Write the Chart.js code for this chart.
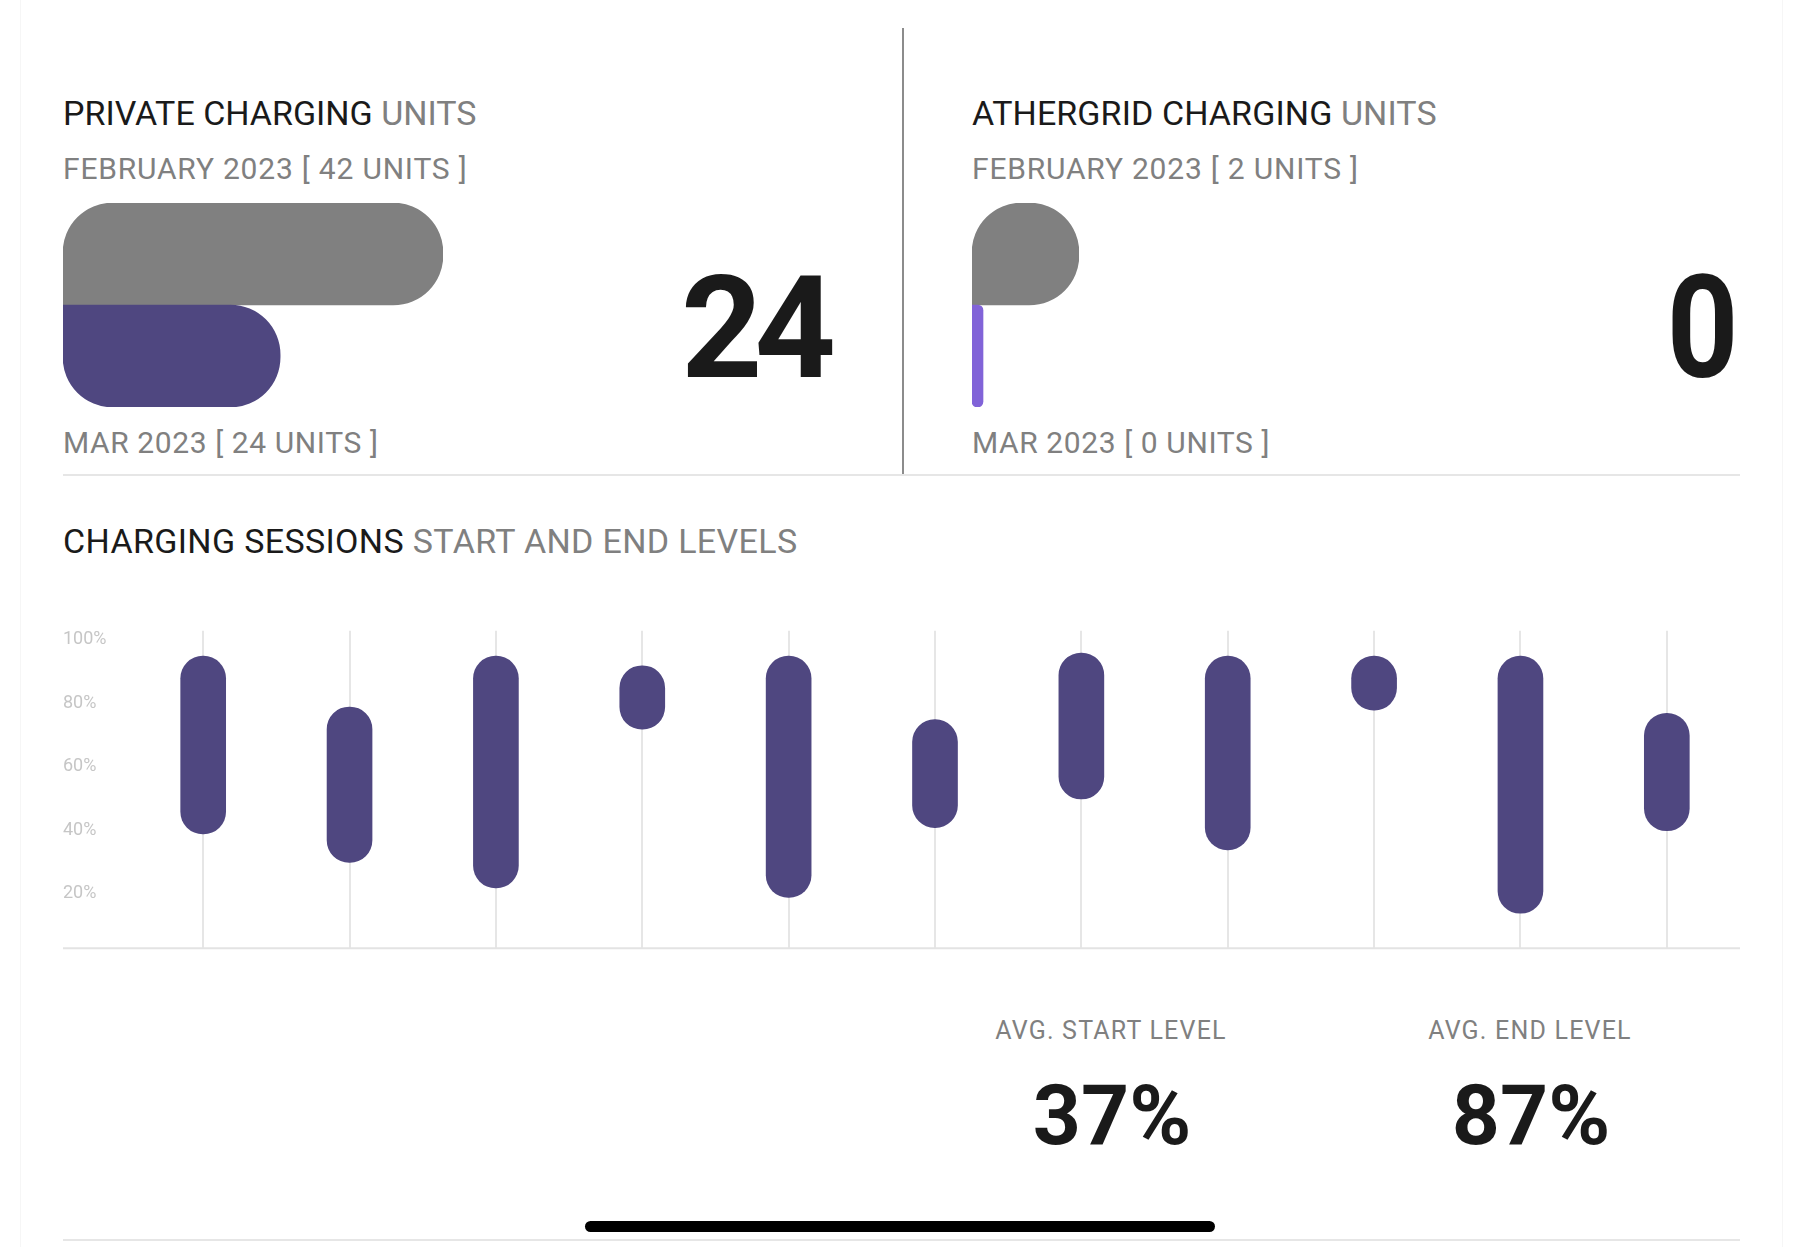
<!DOCTYPE html>
<html>
<head>
<meta charset="utf-8">
<script src="https://cdn.jsdelivr.net/npm/chart.js@4.4.0/dist/chart.umd.min.js"></script>
<style>
  body { margin: 0; background: #fff; }
  #page { position: relative; width: 1804px; height: 1247px; overflow: hidden; font-family: Roboto, sans-serif; color: #1a1a1a; }
  .t { position: absolute; white-space: nowrap; line-height: 1; }
  .grey { color: #808080; }
  .title { font-size: 34px; letter-spacing: 0; }
  .sub { font-size: 30px; letter-spacing: 0.8px; color: #808080; }
  .big { font-weight: 700; font-size: 142px; letter-spacing: -8px; text-align: right; transform-origin: right center; }
  .avgLabel { font-size: 25px; color: #808080; letter-spacing: 1.2px; width: 400px; text-align: center; }
  .avgVal { font-weight: 700; font-size: 84px; width: 400px; text-align: center; letter-spacing: 0; }
  .box { position: absolute; }
  .line { position: absolute; background: #e6e6e6; }
</style>
</head>
<body>
<div id="page">
  <div class="line" style="left:20px;top:0;width:1px;height:1247px;background:#f6f6f6"></div>
  <div class="line" style="left:1782px;top:0;width:1px;height:1247px;background:#f6f6f6"></div>

  <div class="t title" style="left:63px;top:96px">PRIVATE CHARGING <span class="grey">UNITS</span></div>
  <div class="t sub" id="privFeb" style="left:63px;top:154px"></div>
  <div class="box" style="left:63px;top:203px;width:380px;height:204px"><canvas id="privChart"></canvas></div>
  <div class="t sub" id="privMar" style="left:63px;top:428px;letter-spacing:0.6px"></div>
  <div class="t big" id="privBig" style="right:976px;top:258px"></div>

  <div class="line" style="left:902px;top:28px;width:2px;height:448px;background:#8c8c8c"></div>

  <div class="t title" style="left:972px;top:96px;letter-spacing:0.1px">ATHERGRID CHARGING <span class="grey">UNITS</span></div>
  <div class="t sub" id="athFeb" style="left:972px;top:154px"></div>
  <div class="box" style="left:972px;top:203px;width:107px;height:204px"><canvas id="athChart"></canvas></div>
  <div class="t sub" id="athMar" style="left:972px;top:428px;letter-spacing:0.6px"></div>
  <div class="t big" id="athBig" style="right:73px;top:258px;transform:scaleX(0.88)"></div>

  <div class="line" style="left:63px;top:474px;width:1677px;height:2px"></div>

  <div class="t title" style="left:63px;top:524px;letter-spacing:0.35px">CHARGING SESSIONS <span class="grey">START AND END LEVELS</span></div>
  <div class="box" style="left:63px;top:620px;width:1677px;height:339px"><canvas id="sessionChart"></canvas></div>

  <div class="t avgLabel" style="left:911px;top:1018px">AVG. START LEVEL</div>
  <div class="t avgVal" id="avgStart" style="left:912px;top:1074px"></div>
  <div class="t avgLabel" style="left:1330px;top:1018px">AVG. END LEVEL</div>
  <div class="t avgVal" id="avgEnd" style="left:1331px;top:1074px"></div>

  <div class="line" style="left:585px;top:1221px;width:630px;height:11px;background:#000;border-radius:6px"></div>
  <div class="line" style="left:63px;top:1239px;width:1677px;height:2px"></div>
</div>

<script>
// units per month
const unitMonths = ['FEBRUARY 2023', 'MAR 2023'];
const privateUnits = [42, 24];
const athergridUnits = [2, 0];

// charging sessions, battery level in %
const sessionLabels = ['1', '2', '3', '4', '5', '6', '7', '8', '9', '10', '11'];
const sessionStart = [36, 27, 19, 69, 16, 38, 47, 31, 75, 11, 37];
const sessionEnd = [92, 76, 92, 89, 92, 72, 93, 92, 92, 92, 74];
const levelTicks = [0, 20, 40, 60, 80, 100];

const purple = '#4f4780';

function fillUnits(prefix, values) {
    document.getElementById(prefix + 'Feb').textContent = unitMonths[0] + ' [ ' + values[0] + ' UNITS ]';
    document.getElementById(prefix + 'Mar').textContent = unitMonths[1] + ' [ ' + values[1] + ' UNITS ]';
    document.getElementById(prefix + 'Big').textContent = values[1];
}
fillUnits('priv', privateUnits);
fillUnits('ath', athergridUnits);

function avg(arr) {
    let s = 0;
    for (let i = 0; i < arr.length; i += 1) s += arr[i];
    return Math.round(s / arr.length);
}
document.getElementById('avgStart').textContent = avg(sessionStart) + '%';
document.getElementById('avgEnd').textContent = avg(sessionEnd) + '%';

const radii = [
    {topLeft: 50, topRight: 50, bottomRight: 50, bottomLeft: 0},
    {topLeft: 0, topRight: 50, bottomRight: 50, bottomLeft: 50}
];

function unitChart(id, values, colors) {
    return new Chart(document.getElementById(id), {
        type: 'bar',
        data: {
            labels: unitMonths,
            datasets: [{
                data: values,
                backgroundColor: colors,
                borderRadius: ctx => radii[ctx.dataIndex],
                borderSkipped: false,
                barPercentage: 1,
                categoryPercentage: 1,
                minBarLength: 11
            }]
        },
        options: {
            indexAxis: 'y',
            responsive: true,
            maintainAspectRatio: false,
            animation: false,
            layout: { padding: 0 },
            plugins: { legend: { display: false }, tooltip: { enabled: false } },
            scales: {
                x: { display: false, min: 0, max: Math.max.apply(null, values) },
                y: { display: false }
            }
        }
    });
}
unitChart('privChart', privateUnits, ['#808080', purple]);
unitChart('athChart', athergridUnits, ['#808080', '#8163d8']);

// bottom line of the sessions chart, runs under the tick labels too
const baseLine = {
    id: 'baseLine',
    beforeDatasetsDraw(chart) {
        const ctx = chart.ctx;
        const y = chart.scales.y.getPixelForValue(0);
        ctx.save();
        ctx.strokeStyle = '#e3e3e3';
        ctx.lineWidth = 2;
        ctx.beginPath();
        ctx.moveTo(0, y);
        ctx.lineTo(chart.chartArea.right, y);
        ctx.stroke();
        ctx.restore();
    }
};

new Chart(document.getElementById('sessionChart'), {
    type: 'bar',
    data: {
        labels: sessionLabels,
        datasets: [{
            data: sessionLabels.map((_, i) => [sessionStart[i], sessionEnd[i]]),
            backgroundColor: purple,
            barThickness: 45,
            borderRadius: 23,
            borderSkipped: false
        }]
    },
    options: {
        responsive: true,
        maintainAspectRatio: false,
        animation: false,
        layout: { padding: 0 },
        plugins: { legend: { display: false }, tooltip: { enabled: false } },
        scales: {
            x: {
                grid: { offset: false, color: '#e6e6e6', lineWidth: 2, drawTicks: false },
                border: { display: false },
                ticks: { display: false }
            },
            y: {
                min: 0,
                max: 100,
                afterBuildTicks: axis => { axis.ticks = levelTicks.map(v => ({ value: v })) },
                afterFit: scale => { scale.width = 67 },
                grid: { display: false },
                border: { display: false },
                ticks: {
                    crossAlign: 'far',
                    labelOffset: 9,
                    padding: 0,
                    color: '#c6c6c6',
                    font: { family: 'Roboto', size: 18 },
                    callback: v => v === 0 ? '' : v + '%'
                }
            }
        }
    },
    plugins: [baseLine]
});
</script>
</body>
</html>
